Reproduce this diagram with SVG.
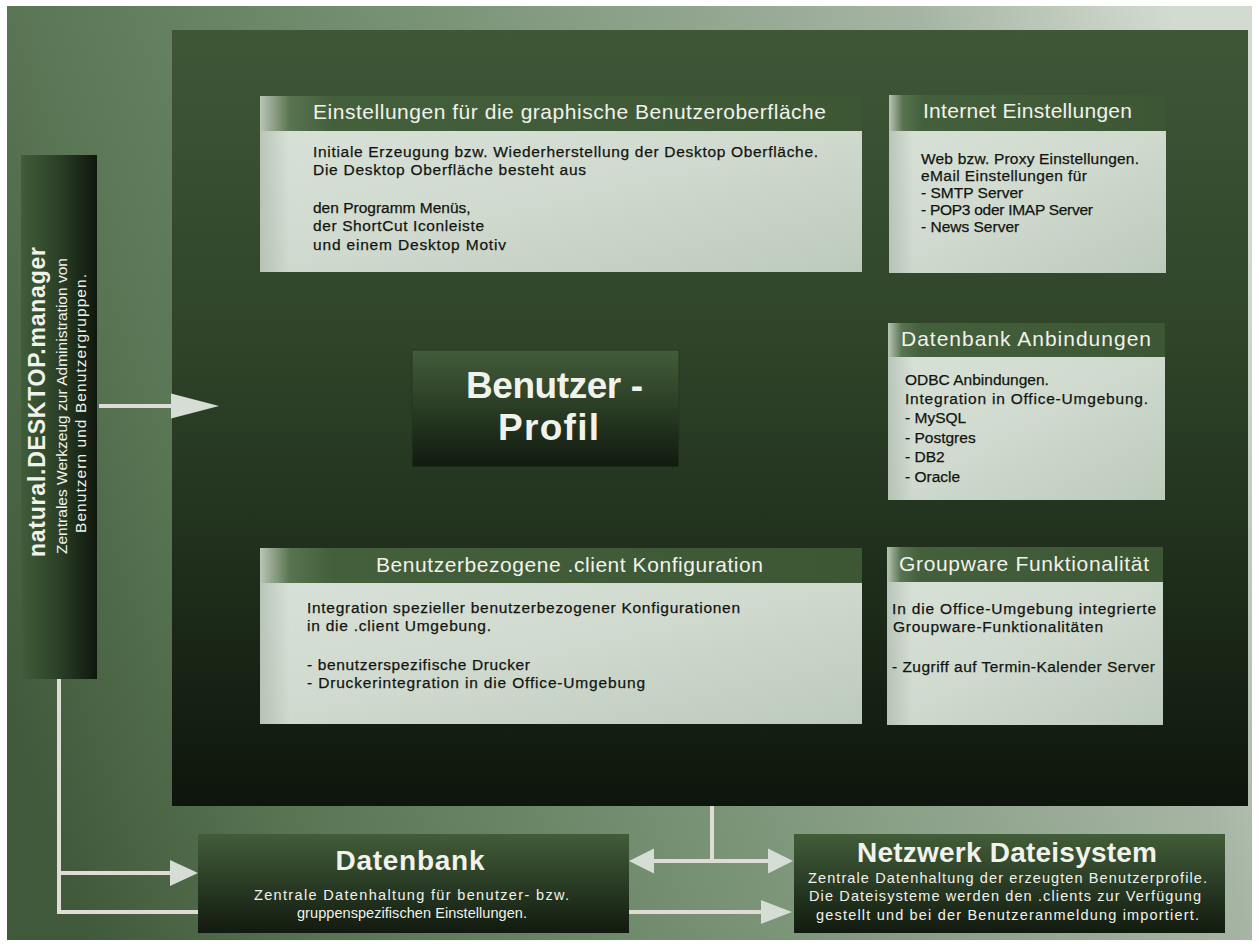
<svg xmlns="http://www.w3.org/2000/svg" width="1259" height="944" viewBox="0 0 1259 944">
<defs>
<linearGradient id="bg" gradientUnits="userSpaceOnUse" x1="0" y1="700" x2="1259" y2="250">
<stop offset="0" stop-color="#40593a"/>
<stop offset="0.17" stop-color="#587453"/>
<stop offset="0.43" stop-color="#748f71"/>
<stop offset="0.82" stop-color="#a6b5a3"/>
<stop offset="1" stop-color="#d3dbd1"/>
</linearGradient>
<linearGradient id="panel" x1="0" y1="0" x2="0" y2="1">
<stop offset="0" stop-color="#3f5737"/>
<stop offset="0.4" stop-color="#2f4429"/>
<stop offset="0.75" stop-color="#1c2a19"/>
<stop offset="1" stop-color="#0e150c"/>
</linearGradient>
<linearGradient id="vdark" x1="0" y1="0" x2="0" y2="1">
<stop offset="0" stop-color="#425d39"/>
<stop offset="0.5" stop-color="#2a3c25"/>
<stop offset="1" stop-color="#111a0f"/>
</linearGradient>
<linearGradient id="hdark" x1="0" y1="0" x2="1" y2="0">
<stop offset="0" stop-color="#415d39"/>
<stop offset="0.45" stop-color="#2e4329"/>
<stop offset="1" stop-color="#0f170d"/>
</linearGradient>
<linearGradient id="head" x1="0" y1="0" x2="1" y2="0">
<stop offset="0" stop-color="#b9c5b5"/>
<stop offset="0.05" stop-color="#58734f"/>
<stop offset="0.12" stop-color="#445f3b"/>
<stop offset="1" stop-color="#3d5735"/>
</linearGradient>
<linearGradient id="body" x1="0" y1="0" x2="1" y2="1">
<stop offset="0" stop-color="#d8e1d7"/>
<stop offset="0.5" stop-color="#cfd9ce"/>
<stop offset="1" stop-color="#bccabb"/>
</linearGradient>
<linearGradient id="bodyedge" x1="0" y1="0" x2="1" y2="0">
<stop offset="0" stop-color="#a6b3a5" stop-opacity="0.6"/>
<stop offset="1" stop-color="#a6b3a5" stop-opacity="0"/>
</linearGradient>
</defs>
<style>
text{font-family:"Liberation Sans",Arial,sans-serif}
.ht{font-size:21px;fill:#f1f2ec}
.bt{font-size:15.5px;fill:#121410;stroke:#121410;stroke-width:0.25}
.wt{font-size:14.5px;fill:#f1f2ec}
.ttl{font-size:28px;font-weight:bold;fill:#f1f2ec}
.line{stroke:#dedcd4;stroke-width:4;fill:none}
.head{fill:#d6ddd4}
.hd{fill:url(#head)}
.bd{fill:url(#body)}
</style>
<rect x="0" y="0" width="1259" height="944" fill="#ffffff"/>
<rect x="7" y="6" width="1245" height="934" fill="url(#bg)"/>
<rect x="172" y="30" width="1076" height="776" fill="url(#panel)"/>

<g id="connectors">
<line class="line" x1="99" y1="406" x2="173" y2="406"/>
<polygon class="head" points="171,393.5 219,406 171,418.5"/>
<line class="line" x1="59" y1="679" x2="59" y2="914"/>
<line class="line" x1="57" y1="873" x2="172" y2="873"/>
<polygon class="head" points="170,860 198,873 170,886"/>
<line class="line" x1="57" y1="912" x2="763" y2="912"/>
<polygon class="head" points="761,900 792,912 761,924"/>
<line class="line" x1="712" y1="806" x2="712" y2="861"/>
<line class="line" x1="652" y1="861" x2="770" y2="861"/>
<polygon class="head" points="654,848.5 629,861 654,873.5"/>
<polygon class="head" points="768,848.5 793,861 768,873.5"/>
</g>

<g id="manager">
<rect x="21" y="155" width="76" height="524" fill="url(#hdark)"/>
<text transform="translate(45,557) rotate(-90)" font-size="23" font-weight="bold" fill="#f1f2ec" textLength="310" lengthAdjust="spacing">natural.DESKTOP.manager</text>
<text transform="translate(67,554) rotate(-90)" font-size="15.5" fill="#f1f2ec" textLength="296" lengthAdjust="spacing">Zentrales Werkzeug zur Administration von</text>
<text transform="translate(86,533) rotate(-90)" font-size="15.5" fill="#f1f2ec" textLength="259" lengthAdjust="spacing">Benutzern und Benutzergruppen.</text>
</g>

<g id="gui">
<rect class="hd" x="260" y="96" width="602" height="35"/>
<rect class="bd" x="260" y="131" width="602" height="141"/>
<rect x="260" y="131" width="30" height="141" fill="url(#bodyedge)"/>
<text class="ht" x="313" y="119" textLength="513" lengthAdjust="spacing">Einstellungen für die graphische Benutzeroberfläche</text>
<text class="bt" x="313" y="157" textLength="505" lengthAdjust="spacing">Initiale Erzeugung bzw. Wiederherstellung der Desktop Oberfläche.</text>
<text class="bt" x="313" y="175" textLength="273" lengthAdjust="spacing">Die Desktop Oberfläche besteht aus</text>
<text class="bt" x="313" y="213">den Programm Menüs,</text>
<text class="bt" x="313" y="231" textLength="171" lengthAdjust="spacing">der ShortCut Iconleiste</text>
<text class="bt" x="313" y="250" textLength="193" lengthAdjust="spacing">und einem Desktop Motiv</text>
</g>

<g id="internet">
<rect class="hd" x="889" y="95" width="277" height="36"/>
<rect class="bd" x="889" y="131" width="277" height="142"/>
<rect x="889" y="131" width="25" height="142" fill="url(#bodyedge)"/>
<text class="ht" x="923" y="118" textLength="209" lengthAdjust="spacing">Internet Einstellungen</text>
<text class="bt" x="921" y="164" textLength="218" lengthAdjust="spacing">Web bzw. Proxy Einstellungen.</text>
<text class="bt" x="921" y="181" textLength="166" lengthAdjust="spacing">eMail Einstellungen für</text>
<text class="bt" x="921" y="198">- SMTP Server</text>
<text class="bt" x="921" y="215" textLength="172" lengthAdjust="spacing">- POP3 oder IMAP Server</text>
<text class="bt" x="921" y="232">- News Server</text>
</g>

<g id="profil">
<rect x="412" y="350" width="267" height="117" fill="url(#vdark)" stroke="#263622" stroke-width="1"/>
<text x="466" y="398" font-size="37" font-weight="bold" fill="#f1f2ec" textLength="177" lengthAdjust="spacing">Benutzer -</text>
<text x="498" y="440" font-size="37" font-weight="bold" fill="#f1f2ec" textLength="101" lengthAdjust="spacing">Profil</text>
</g>

<g id="datenbank-anbindungen">
<rect class="hd" x="888" y="323" width="277" height="34"/>
<rect class="bd" x="888" y="357" width="277" height="143"/>
<rect x="888" y="357" width="25" height="143" fill="url(#bodyedge)"/>
<text class="ht" x="901" y="346" textLength="250" lengthAdjust="spacing">Datenbank Anbindungen</text>
<text class="bt" x="905" y="385">ODBC Anbindungen.</text>
<text class="bt" x="905" y="404" textLength="243" lengthAdjust="spacing">Integration in Office-Umgebung.</text>
<text class="bt" x="905" y="423">- MySQL</text>
<text class="bt" x="905" y="443">- Postgres</text>
<text class="bt" x="905" y="462">- DB2</text>
<text class="bt" x="905" y="482">- Oracle</text>
</g>

<g id="client">
<rect class="hd" x="260" y="548" width="602" height="35"/>
<rect class="bd" x="260" y="583" width="602" height="141"/>
<rect x="260" y="583" width="30" height="141" fill="url(#bodyedge)"/>
<text class="ht" x="376" y="572" textLength="387" lengthAdjust="spacing">Benutzerbezogene .client Konfiguration</text>
<text class="bt" x="307" y="613" textLength="433" lengthAdjust="spacing">Integration spezieller benutzerbezogener Konfigurationen</text>
<text class="bt" x="307" y="631" textLength="184" lengthAdjust="spacing">in die .client Umgebung.</text>
<text class="bt" x="307" y="670" textLength="223" lengthAdjust="spacing">- benutzerspezifische Drucker</text>
<text class="bt" x="307" y="688" textLength="338" lengthAdjust="spacing">- Druckerintegration in die Office-Umgebung</text>
</g>

<g id="groupware">
<rect class="hd" x="887" y="547" width="276" height="35"/>
<rect class="bd" x="887" y="582" width="276" height="143"/>
<rect x="887" y="582" width="25" height="143" fill="url(#bodyedge)"/>
<text class="ht" x="899" y="571" textLength="250" lengthAdjust="spacing">Groupware Funktionalität</text>
<text class="bt" x="892" y="614" textLength="264" lengthAdjust="spacing">In die Office-Umgebung integrierte</text>
<text class="bt" x="893" y="632" textLength="210" lengthAdjust="spacing">Groupware-Funktionalitäten</text>
<text class="bt" x="892" y="672" textLength="263" lengthAdjust="spacing">- Zugriff auf Termin-Kalender Server</text>
</g>

<g id="datenbank">
<rect x="198" y="834" width="431" height="99" fill="url(#vdark)"/>
<text class="ttl" x="335.5" y="870" textLength="149" lengthAdjust="spacing">Datenbank</text>
<text class="wt" x="254" y="900" textLength="315" lengthAdjust="spacing">Zentrale Datenhaltung für benutzer- bzw.</text>
<text class="wt" x="297" y="918" textLength="230" lengthAdjust="spacing">gruppenspezifischen Einstellungen.</text>
</g>

<g id="netzwerk">
<rect x="794" y="834" width="431" height="99" fill="url(#vdark)"/>
<text class="ttl" x="857" y="862" textLength="300" lengthAdjust="spacing">Netzwerk Dateisystem</text>
<text class="wt" x="808" y="883" textLength="399" lengthAdjust="spacing">Zentrale Datenhaltung der erzeugten Benutzerprofile.</text>
<text class="wt" x="809" y="901" textLength="392" lengthAdjust="spacing">Die Dateisysteme werden den .clients zur Verfügung</text>
<text class="wt" x="816" y="920" textLength="383" lengthAdjust="spacing">gestellt und bei der Benutzeranmeldung importiert.</text>
</g>
</svg>
